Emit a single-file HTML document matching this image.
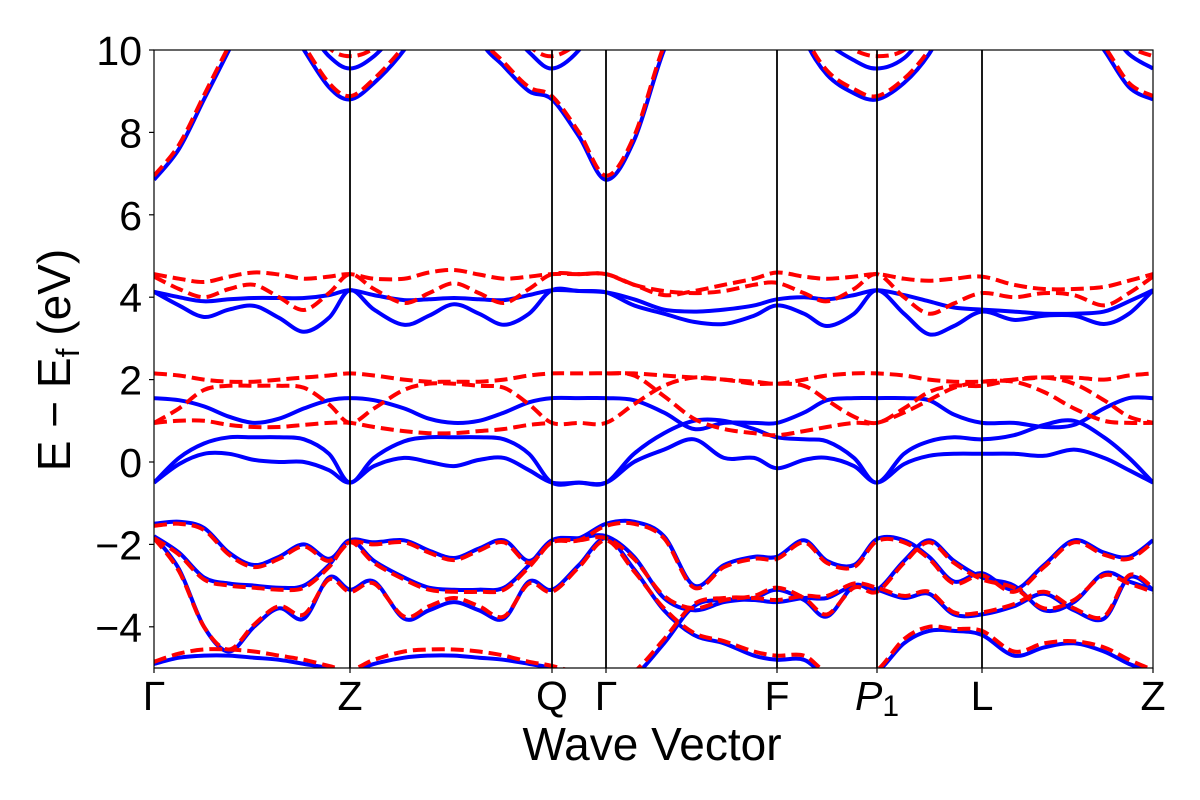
<!DOCTYPE html>
<html><head><meta charset="utf-8"><style>
html,body{margin:0;padding:0;background:#fff;}
svg{display:block;font-family:"Liberation Sans","DejaVu Sans",sans-serif;}
</style></head><body>
<svg id="chart" width="1200" height="800" viewBox="0 0 1200 800">
<defs><clipPath id="plotclip"><rect x="154" y="50" width="999" height="618"/></clipPath></defs>
<rect x="0" y="0" width="1200" height="800" fill="#fff"/>
<g id="bands" clip-path="url(#plotclip)"></g>
<g id="vlines"></g>
<rect x="154" y="50" width="999" height="618" fill="none" stroke="#000" stroke-width="1.2"/>
<g id="yaxis"></g>
<g id="xaxis"></g>
<text x="652" y="760" font-size="46" text-anchor="middle">Wave Vector</text>
<text transform="translate(70,360) rotate(-90)" font-size="46" text-anchor="middle">E − E<tspan font-size="32" dy="9">f</tspan><tspan dy="-9"> (eV)</tspan></text>
</svg>
<script>
const kGrid=[0,0.25,0.5,0.75,1.0,1.25,1.5,1.75,1.96,2.2,2.5,2.75,3.0,3.25,3.5,3.75,3.98,4.25,4.52,4.8,5.1,5.4,5.7,6.0,6.23,6.5,6.73,7.0,7.23,7.5,7.75,8.0,8.28,8.6,8.9,9.2,9.5,9.75,9.99];
const kLabels=["Γ","Z","Q","Γ","F","P1","L","Z"];
const kTicks=[0,1.96,3.98,4.52,6.23,7.23,8.28,9.99];
const yTicks=[-4,-2,0,2,4,6,8,10];
const blueBands=[
[6.85,7.6,8.8,10.0,11.2,11,10.0,9.1,8.8,9.2,10.0,11,12,10.3,9.6,9.0,8.8,7.9,6.85,7.8,10.0,11.5,12,12,12,10.3,9.4,8.95,8.8,9.2,9.9,11,12,12,12,11,10.0,9.1,8.8],
[12,12,12,12,12,11,10.6,9.85,9.55,9.85,10.6,11,12,11,10.6,9.95,9.55,10.0,11,12,12,12,12,12,12,11,10.2,9.75,9.55,9.8,10.5,11,12,12,12,11,10.6,9.9,9.55],
[4.13,4.0,3.9,3.95,3.98,3.98,3.98,4.05,4.17,4.05,3.93,3.95,3.98,3.95,3.93,4.05,4.17,4.15,4.12,3.95,3.7,3.65,3.7,3.8,3.95,4.0,3.95,4.05,4.17,4.05,3.9,3.75,3.7,3.65,3.6,3.6,3.65,3.9,4.17],
[4.13,3.8,3.52,3.7,3.79,3.5,3.16,3.5,4.17,3.7,3.33,3.55,3.83,3.6,3.33,3.6,4.17,4.15,4.12,3.8,3.6,3.4,3.35,3.55,3.8,3.6,3.3,3.6,4.17,3.6,3.1,3.3,3.65,3.45,3.55,3.55,3.35,3.6,4.17],
[1.55,1.5,1.35,1.1,0.95,1.05,1.3,1.5,1.55,1.5,1.3,1.05,0.95,1.0,1.2,1.45,1.55,1.55,1.55,1.5,1.2,0.8,0.95,0.95,0.95,1.2,1.5,1.55,1.55,1.55,1.5,1.15,0.95,0.95,0.85,0.9,1.3,1.55,1.55],
[-0.5,0.1,0.45,0.6,0.6,0.6,0.55,0.2,-0.5,0.1,0.5,0.6,0.6,0.6,0.55,0.2,-0.5,-0.5,-0.5,0.2,0.7,1.0,1.0,0.8,0.6,0.55,0.5,0.1,-0.5,0.2,0.5,0.6,0.55,0.65,0.9,1.0,0.6,0.1,-0.5],
[-0.5,-0.05,0.2,0.2,0.05,0.0,0.0,-0.2,-0.5,-0.1,0.1,0.0,-0.1,0.05,0.1,-0.2,-0.5,-0.5,-0.5,0.0,0.3,0.55,0.1,0.1,-0.15,0.05,0.1,-0.1,-0.5,-0.05,0.15,0.2,0.2,0.2,0.15,0.3,0.1,-0.2,-0.5],
[-1.5,-1.45,-1.6,-2.2,-2.5,-2.3,-2.0,-2.35,-1.9,-1.95,-1.9,-2.15,-2.33,-2.1,-1.9,-2.4,-1.9,-1.85,-1.5,-1.45,-1.8,-3.0,-2.5,-2.3,-2.3,-1.9,-2.4,-2.5,-1.87,-1.9,-2.3,-2.9,-2.7,-3.1,-2.5,-1.9,-2.2,-2.3,-1.9],
[-1.8,-2.2,-2.8,-2.95,-3.0,-3.05,-3.0,-2.5,-1.9,-2.4,-2.8,-3.05,-3.1,-3.1,-3.05,-2.5,-1.9,-1.85,-1.8,-2.3,-3.3,-3.6,-3.4,-3.3,-3.1,-3.35,-3.75,-3.0,-3.1,-2.4,-1.9,-2.4,-2.8,-3.0,-3.6,-3.4,-2.7,-2.9,-3.1],
[-1.8,-2.6,-4.0,-4.6,-4.0,-3.55,-3.8,-2.8,-3.1,-2.9,-3.8,-3.6,-3.4,-3.6,-3.8,-2.9,-3.1,-2.5,-1.85,-2.6,-3.6,-4.2,-4.4,-4.7,-4.8,-4.8,-5.2,-5.2,-5.1,-4.4,-4.1,-4.1,-4.2,-4.7,-4.5,-4.4,-4.6,-4.9,-5.1],
[-4.9,-4.75,-4.7,-4.7,-4.75,-4.8,-4.9,-5.0,-5.1,-4.9,-4.75,-4.7,-4.7,-4.75,-4.8,-4.9,-5.0,-5.2,-5.5,-5.2,-4.4,-3.5,-3.35,-3.35,-3.4,-3.3,-3.3,-3.0,-3.1,-3.3,-3.2,-3.7,-3.7,-3.5,-3.2,-3.6,-3.8,-2.8,-3.1]
];
const redBands=[
[6.95,7.7,8.9,10.1,11.2,11,10.1,9.2,8.88,9.3,10.1,11,12,10.4,9.7,9.1,8.88,8.0,6.95,7.9,10.1,11.5,12,12,12,10.4,9.5,9.05,8.88,9.3,10.0,11,12,12,12,11,10.1,9.2,8.88],
[12,12,12,12,12,11,10.8,10.05,9.85,10.05,10.8,11,12,11,10.8,10.1,9.85,10.2,11,12,12,12,12,12,12,11,10.4,10.0,9.85,10.0,10.7,11,12,12,12,11,10.8,10.1,9.85],
[4.56,4.45,4.37,4.5,4.6,4.55,4.45,4.5,4.56,4.45,4.45,4.6,4.66,4.55,4.45,4.5,4.56,4.56,4.56,4.3,4.05,4.15,4.3,4.45,4.6,4.5,4.45,4.5,4.56,4.45,4.4,4.45,4.5,4.3,4.2,4.2,4.25,4.4,4.56],
[4.5,4.2,4.0,4.2,4.3,4.0,3.69,4.1,4.56,4.2,3.86,4.1,4.34,4.1,3.86,4.2,4.56,4.56,4.56,4.3,4.15,4.1,4.15,4.3,4.35,4.1,3.9,4.2,4.56,4.0,3.6,3.85,4.1,4.0,4.1,4.05,3.8,4.1,4.5],
[2.15,2.1,2.0,1.95,1.95,2.0,2.05,2.1,2.15,2.1,2.0,1.95,1.95,1.95,2.0,2.1,2.15,2.15,2.15,2.1,1.6,1.05,0.8,0.7,0.65,0.75,0.85,0.95,0.95,1.2,1.5,1.8,1.95,1.95,1.7,1.3,1.0,0.95,0.95],
[0.95,1.3,1.75,1.85,1.85,1.85,1.8,1.4,0.95,1.3,1.75,1.9,1.9,1.85,1.8,1.4,0.95,0.95,0.95,1.4,1.85,2.05,2.0,1.9,1.9,1.85,1.5,1.1,0.95,1.3,1.7,1.85,1.85,2.0,2.05,1.9,1.5,1.1,0.95],
[0.95,1.0,1.0,0.9,0.85,0.85,0.9,0.95,0.95,0.85,0.75,0.7,0.7,0.75,0.8,0.9,0.95,null,2.15,2.15,2.1,2.05,2.0,1.95,1.9,2.0,2.1,2.15,2.15,2.1,2.0,1.95,1.95,2.0,2.05,2.05,2.0,2.1,2.15],
[-1.55,-1.5,-1.65,-2.25,-2.55,-2.35,-2.05,-2.4,-1.95,-2.0,-1.95,-2.2,-2.38,-2.15,-1.95,-2.45,-1.95,-1.9,-1.55,-1.5,-1.85,-3.05,-2.55,-2.35,-2.35,-1.95,-2.45,-2.55,-1.92,-1.95,-2.35,-2.95,-2.75,-3.15,-2.55,-1.95,-2.25,-2.35,-1.95],
[-1.85,-2.25,-2.85,-3.0,-3.05,-3.1,-3.05,-2.55,-1.95,-2.45,-2.85,-3.1,-3.15,-3.15,-3.1,-2.55,-1.95,-1.9,-1.85,-2.35,-3.25,-3.55,-3.35,-3.25,-3.05,-3.3,-3.7,-3.05,-3.15,-2.45,-1.95,-2.45,-2.85,-3.05,-3.55,-3.35,-2.75,-2.95,-3.15],
[-1.85,-2.65,-4.0,-4.55,-3.95,-3.5,-3.7,-2.85,-3.15,-2.95,-3.75,-3.5,-3.3,-3.5,-3.75,-2.95,-3.15,-2.55,-1.9,-2.65,-3.55,-4.15,-4.35,-4.6,-4.7,-4.7,-5.1,-5.1,-5.05,-4.3,-4.0,-4.05,-4.1,-4.6,-4.4,-4.35,-4.5,-4.8,-5.05],
[-4.85,-4.65,-4.55,-4.55,-4.6,-4.7,-4.8,-4.95,-5.05,-4.8,-4.6,-4.55,-4.55,-4.6,-4.7,-4.85,-4.95,-5.15,-5.45,-5.1,-4.3,-3.45,-3.3,-3.3,-3.35,-3.25,-3.25,-2.95,-3.05,-3.25,-3.15,-3.65,-3.65,-3.45,-3.15,-3.55,-3.75,-2.75,-3.05]
];
const NS="http://www.w3.org/2000/svg";
const X0=154,X1=1153,Y0=668,Y1=50,EMIN=-5,EMAX=10,KMAX=9.99;
function xs(k){return X0+(k/KMAX)*(X1-X0);}
function ys(e){return Y0-(e-EMIN)/(EMAX-EMIN)*(Y0-Y1);}
function pathFrom(vals){
  let d="";let seg=[];
  const flush=()=>{
    if(seg.length<2){seg=[];return;}
    d+="M"+seg[0][0].toFixed(1)+","+seg[0][1].toFixed(1);
    for(let i=0;i<seg.length-1;i++){
      const p0=seg[Math.max(0,i-1)],p1=seg[i],p2=seg[i+1],p3=seg[Math.min(seg.length-1,i+2)];
      const c1x=p1[0]+(p2[0]-p0[0])/6,c1y=p1[1]+(p2[1]-p0[1])/6;
      const c2x=p2[0]-(p3[0]-p1[0])/6,c2y=p2[1]-(p3[1]-p1[1])/6;
      d+="C"+c1x.toFixed(1)+","+c1y.toFixed(1)+" "+c2x.toFixed(1)+","+c2y.toFixed(1)+" "+p2[0].toFixed(1)+","+p2[1].toFixed(1);
    }
    seg=[];
  };
  vals.forEach((v,i)=>{if(v===null){flush();}else seg.push([xs(kGrid[i]),ys(v)]);});
  flush();return d;
}
const bandsG=document.getElementById("bands");
blueBands.forEach((b,i)=>{
  const p=document.createElementNS(NS,"path");
  p.setAttribute("d",pathFrom(b));p.setAttribute("fill","none");p.setAttribute("stroke","#0000ff");p.setAttribute("stroke-width","4");
  
  
  bandsG.appendChild(p);
});
redBands.forEach((b,i)=>{
  const p=document.createElementNS(NS,"path");
  p.setAttribute("d",pathFrom(b));p.setAttribute("fill","none");p.setAttribute("stroke","#ff0000");p.setAttribute("stroke-width","4");p.setAttribute("stroke-dasharray","13,6");
  
  
  bandsG.appendChild(p);
});
const vl=document.getElementById("vlines"),xa=document.getElementById("xaxis");
kTicks.forEach((k,i)=>{
  const x=xs(k);
  if(i>0&&i<kTicks.length-1){
    const l=document.createElementNS(NS,"line");
    l.setAttribute("x1",x);l.setAttribute("x2",x);l.setAttribute("y1",Y1);l.setAttribute("y2",Y0);l.setAttribute("stroke","#000");l.setAttribute("stroke-width","1.8");
    
    
    vl.appendChild(l);
  }
  const t=document.createElementNS(NS,"line");
  t.setAttribute("x1",x);t.setAttribute("x2",x);t.setAttribute("y1",Y0);t.setAttribute("y2",Y0+5);t.setAttribute("stroke","#000");t.setAttribute("stroke-width","1.2");
  
  
  xa.appendChild(t);
  const tx=document.createElementNS(NS,"text");
  tx.setAttribute("x",x);tx.setAttribute("y",710);tx.setAttribute("font-size","41");tx.setAttribute("text-anchor","middle");
  if(kLabels[i]==="P1"){
    const a=document.createElementNS(NS,"tspan");a.setAttribute("font-style","italic");a.textContent="P";
    const b=document.createElementNS(NS,"tspan");b.setAttribute("font-size","30");b.setAttribute("dy","6");b.textContent="1";
    tx.appendChild(a);tx.appendChild(b);
  } else tx.textContent=kLabels[i];
  
  
  xa.appendChild(tx);
});
const ya=document.getElementById("yaxis");
yTicks.forEach(v=>{
  const y=ys(v);
  const t=document.createElementNS(NS,"line");
  t.setAttribute("x1",X0-5);t.setAttribute("x2",X0);t.setAttribute("y1",y);t.setAttribute("y2",y);t.setAttribute("stroke","#000");t.setAttribute("stroke-width","1.2");
  
  
  ya.appendChild(t);
  const tx=document.createElementNS(NS,"text");
  tx.setAttribute("x",X0-12);tx.setAttribute("y",y+15);tx.setAttribute("font-size","41");tx.setAttribute("text-anchor","end");
  tx.textContent=v<0?"−"+Math.abs(v):String(v);
  
  
  ya.appendChild(tx);
});
</script>
</body></html>
